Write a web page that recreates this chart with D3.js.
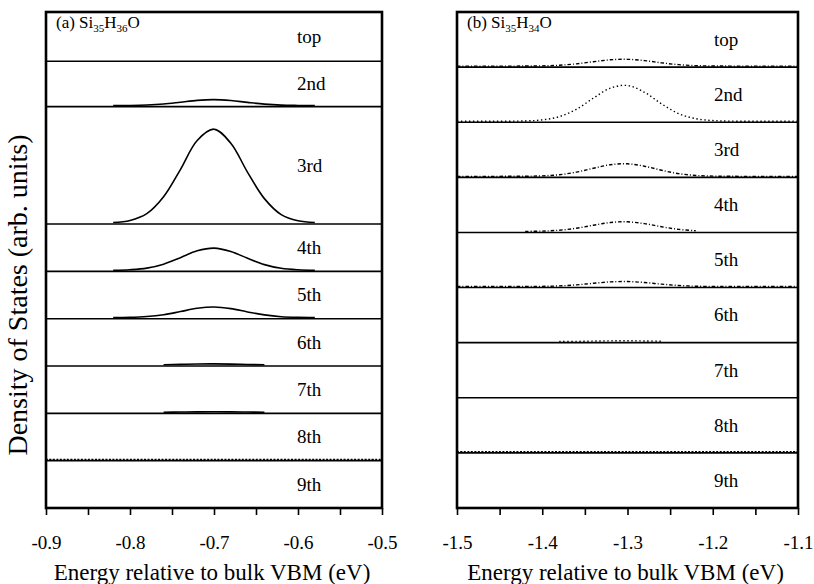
<!DOCTYPE html>
<html><head><meta charset="utf-8">
<script src="https://cdn.jsdelivr.net/npm/d3@7"></script>
<style>
body{margin:0;background:#fff}
svg text{fill:#000}
</style>
</head><body>
<svg id="c" width="814" height="584"></svg>
<script>
// ---------- data ----------
const bandLabels = ["top","2nd","3rd","4th","5th","6th","7th","8th","9th"];
const xTicksA = [-0.9,-0.8,-0.7,-0.6,-0.5];
const xMinorA = [-0.85,-0.75,-0.65,-0.55];
const xTicksB = [-1.5,-1.4,-1.3,-1.2,-1.1];
const xMinorB = [-1.45,-1.35,-1.25,-1.15];

// y-range (arb. units) of each stacked sub-plot
const bandRangeA = [0.52,0.48,1.24,0.50,0.50,0.50,0.50,0.50,0.50];
const bandRangeB = [1.5,1.5,1.5,1.5,1.5,1.5,1.5,1.5,1.5];

// (a) Si35H36O
const energyA = [-0.82,-0.80,-0.78,-0.76,-0.74,-0.72,-0.70,-0.68,-0.66,-0.64,-0.62,-0.60,-0.58];
const dosA2 = [0,0.002,0.007,0.018,0.037,0.057,0.065,0.055,0.035,0.017,0.006,0.002,0];
const dosA3 = [0.006,0.028,0.10,0.28,0.57,0.88,1.00,0.85,0.54,0.26,0.09,0.024,0.005];
const dosA4 = [0.001,0.007,0.024,0.067,0.137,0.211,0.24,0.204,0.13,0.062,0.022,0.006,0.001];
const dosA5 = [0.001,0.003,0.012,0.032,0.066,0.101,0.115,0.098,0.062,0.030,0.010,0.003,0.001];
const dosA6 = [null,null,null,0.003,0.007,0.011,0.012,0.010,0.006,0.003,null,null,null];
const dosA7 = [null,null,null,0.001,0.003,0.005,0.006,0.005,0.003,0.001,null,null,null];
const energyA8 = [-0.9,-0.7,-0.5];
const dosA8 = [0.003,0.003,0.003];

// (b) Si35H34O
const energyB = [-1.50,-1.46,-1.42,-1.40,-1.38,-1.36,-1.34,-1.32,-1.30,-1.28,-1.26,-1.24,-1.22,-1.20,-1.18,-1.14,-1.10];
const dosB1 = [0,0,0.002,0.007,0.024,0.063,0.122,0.175,0.188,0.152,0.091,0.040,0.013,0.003,0.001,0,0];
const dosB2 = [0,0,0.008,0.037,0.128,0.33,0.64,0.92,0.99,0.80,0.48,0.21,0.071,0.018,0.003,0,0];
const dosB3 = [0,0,0.003,0.013,0.045,0.116,0.224,0.322,0.347,0.28,0.168,0.074,0.025,0.006,0.001,0,0];
const dosB4 = [null,null,0.002,0.010,0.035,0.089,0.173,0.248,0.267,0.216,0.130,0.057,0.019,null,null,null,null];
const dosB5 = [0,0,0.001,0.005,0.018,0.046,0.090,0.129,0.139,0.112,0.067,0.029,0.010,0.003,0,0,0];
const dosB6 = [null,null,null,null,0.003,0.008,0.016,0.023,0.025,0.020,0.012,null,null,null,null,null,null];
const energyB8 = [-1.5,-1.3,-1.1];
const dosB8 = [0.004,0.004,0.004];

// ---------- drawing ----------
const FONT = "'Liberation Serif','Tinos','Nimbus Roman','FreeSerif','Noto Serif','DejaVu Serif',serif";
const svg = d3.select("#c").attr("font-family", FONT);
const dashes = {solid:null, dashdot:"3.5,2,1,2", dotted:"1.4,2.6", dashed:"2,1.5"};

const panels = [
  {x0:46, x1:382, dom:[-0.9,-0.5], ticks:xTicksA, minor:xMinorA, ranges:bandRangeA,
   title:["(a) Si","35","H","36","O"], labelX:297,
   series:[
     {band:1,e:energyA,v:dosA2,s:"solid"},{band:2,e:energyA,v:dosA3,s:"solid"},
     {band:3,e:energyA,v:dosA4,s:"solid"},{band:4,e:energyA,v:dosA5,s:"solid"},
     {band:5,e:energyA,v:dosA6,s:"solid"},{band:6,e:energyA,v:dosA7,s:"solid"},
     {band:7,e:energyA8,v:dosA8,s:"dashed"}]},
  {x0:457, x1:798, dom:[-1.5,-1.1], ticks:xTicksB, minor:xMinorB, ranges:bandRangeB,
   title:["(b) Si","35","H","34","O"], labelX:714,
   series:[
     {band:0,e:energyB,v:dosB1,s:"dashdot"},{band:1,e:energyB,v:dosB2,s:"dotted"},
     {band:2,e:energyB,v:dosB3,s:"dashdot"},{band:3,e:energyB,v:dosB4,s:"dashdot"},
     {band:4,e:energyB,v:dosB5,s:"dashdot"},{band:5,e:energyB,v:dosB6,s:"dotted"},
     {band:7,e:energyB8,v:dosB8,s:"dashed"}]}
];
const Y0 = 12, Y1 = 508;

panels.forEach(p => {
  const g = svg.append("g");
  const x = d3.scaleLinear().domain(p.dom).range([p.x0, p.x1]);
  const total = d3.sum(p.ranges);
  const pos = d3.scaleLinear().domain([0,total]).range([Y0,Y1]);
  const cum = [0]; p.ranges.forEach((r,i)=>cum.push(cum[i]+r));
  const bandY = p.ranges.map((r,i)=>d3.scaleLinear().domain([0,r]).range([pos(cum[i+1])-1, pos(cum[i])]));

  g.selectAll("line.sep").data(cum.slice(1,-1)).join("line")
    .attr("x1",p.x0).attr("x2",p.x1).attr("y1",d=>pos(d)).attr("y2",d=>pos(d))
    .attr("stroke","#000").attr("stroke-width",1.6);

  g.selectAll("text.bl").data(bandLabels).join("text")
    .attr("x",p.labelX).attr("y",(d,i)=>(pos(cum[i])+pos(cum[i+1]))/2+2)
    .attr("dominant-baseline","middle")
    .style("font-size","19px").text(d=>d);

  p.series.forEach(s => {
    const pts = s.e.map((e,i)=>[e,s.v[i]]);
    const line = d3.line().defined(d=>d[1]!=null)
      .x(d=>x(d[0])).y(d=>bandY[s.band](d[1])).curve(d3.curveCatmullRom);
    g.append("path").attr("d",line(pts)).attr("fill","none").attr("stroke","#000")
      .attr("stroke-width", s.s==="solid"?1.6:1.4)
      .attr("stroke-dasharray",dashes[s.s]);
  });

  g.append("rect").attr("x",p.x0).attr("y",Y0).attr("width",p.x1-p.x0).attr("height",Y1-Y0)
    .attr("fill","none").attr("stroke","#000").attr("stroke-width",2.6);

  const ax = g.append("g").attr("transform",`translate(0,${Y1})`)
    .call(d3.axisBottom(x).tickValues(p.ticks).tickSize(7).tickPadding(21).tickFormat(d=>d.toFixed(1)));
  ax.attr("font-family",FONT).attr("font-size",19);
  ax.select(".domain").remove();
  ax.selectAll(".tick line").attr("stroke-width",1.6);
  const ax2 = g.append("g").attr("transform",`translate(0,${Y1})`)
    .call(d3.axisBottom(x).tickValues(p.minor).tickSize(7).tickFormat(""));
  ax2.select(".domain").remove();
  ax2.selectAll(".tick line").attr("stroke-width",1.6);

  g.append("text").attr("x",(p.x0+p.x1)/2 - 2).attr("y",580).attr("text-anchor","middle")
    .style("font-size","23px").text("Energy relative to bulk VBM (eV)");

  const t = g.append("text").attr("x",p.x0+10).attr("y",28).style("font-size","17px");
  p.title.forEach((s,i)=>{
    const sub = i%2===1;
    t.append("tspan").text(s).attr("dy", sub?4:(i>0?-4:0)).style("font-size", sub?"11px":"17px");
  });
});

svg.append("text").attr("transform","translate(27,295) rotate(-90)")
  .attr("text-anchor","middle")
  .style("font-size","28px").text("Density of States (arb. units)");
</script>
</body></html>
